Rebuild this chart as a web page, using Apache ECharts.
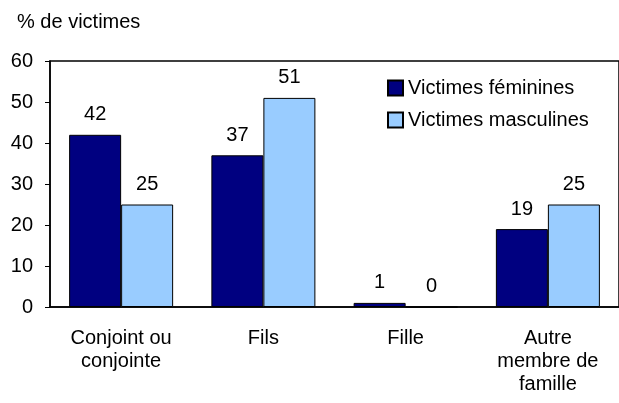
<!DOCTYPE html>
<html>
<head>
<meta charset="utf-8">
<script src="https://cdn.jsdelivr.net/npm/echarts@6/dist/echarts.min.js"></script>
<style>
  html, body { margin: 0; padding: 0; background: #fff; }
  #chart { width: 619px; height: 403px; }
</style>
</head>
<body>
<div id="chart"></div>
<script>
// catégories et valeurs (%)
var categories = ['Conjoint ou\nconjointe', 'Fils', 'Fille', 'Autre\nmembre de\nfamille'];
var feminines = [42, 37, 1, 19];
var masculines = [25, 51, 0, 25];
var yTicks = [0, 10, 20, 30, 40, 50, 60];

var myChart = echarts.init(document.getElementById('chart'));

var police = 'Arial, "Liberation Sans", sans-serif';

var labelStyle = {
    show: true,
    position: 'top',
    distance: 10,
    color: '#000',
    fontFamily: police,
    fontSize: 20
};

var option = {
    animation: false,
    title: {
        text: '% de victimes',
        left: 12,
        top: 7,
        textStyle: {
            fontWeight: 'normal',
            fontFamily: police,
            fontSize: 20,
            color: '#000'
        }
    },
    legend: {
        orient: 'vertical',
        left: 387,
        top: 78,
        padding: 0,
        icon: 'rect',
        itemWidth: 15,
        itemHeight: 15,
        itemGap: 12,
        textStyle: {
            fontFamily: police,
            fontSize: 20,
            color: '#000'
        },
        data: ['Victimes féminines', 'Victimes masculines']
    },
    grid: {
        show: true,
        borderColor: '#000',
        borderWidth: 1.5,
        left: 50,
        right: -2,
        top: 61,
        bottom: 96
    },
    xAxis: {
        type: 'category',
        data: categories,
        axisLine: { lineStyle: { color: '#000', width: 1.5 } },
        axisTick: { show: false },
        axisLabel: {
            color: '#000',
            fontFamily: police,
            fontSize: 20,
            lineHeight: 23,
            margin: 20,
            interval: 0
        }
    },
    yAxis: {
        type: 'value',
        min: yTicks[0],
        max: yTicks[yTicks.length - 1],
        interval: 10,
        axisLine: { show: true, lineStyle: { color: '#000', width: 1.5 } },
        axisTick: { show: true, length: 5, lineStyle: { color: '#000' } },
        splitLine: { show: false },
        axisLabel: {
            color: '#000',
            fontFamily: police,
            fontSize: 20,
            margin: 17
        }
    },
    series: [
        {
            name: 'Victimes féminines',
            type: 'bar',
            barWidth: 52,
            barGap: '0%',
            data: feminines,
            itemStyle: { color: '#000080', borderColor: '#000', borderWidth: 1 },
            label: labelStyle
        },
        {
            name: 'Victimes masculines',
            type: 'bar',
            barWidth: 52,
            data: masculines,
            itemStyle: { color: '#99ccff', borderColor: '#000', borderWidth: 1 },
            label: labelStyle
        }
    ]
};

myChart.setOption(option);
</script>
</body>
</html>
